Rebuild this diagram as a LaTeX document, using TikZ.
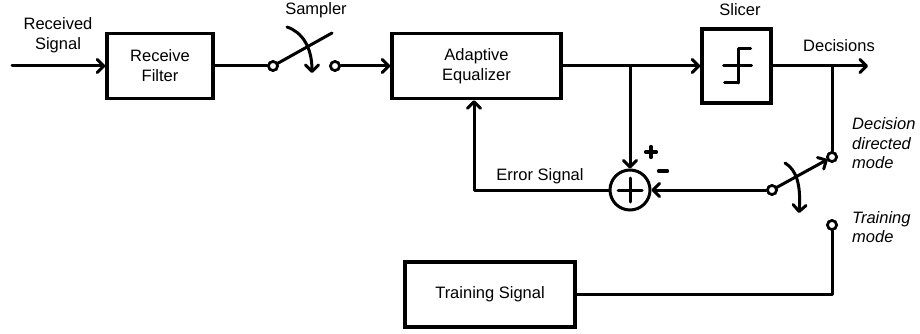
\documentclass[tikz,border=0pt]{standalone}
\usepackage{fontspec}
\setmainfont{Liberation Sans}
\usetikzlibrary{arrows.meta}
\begin{document}
\begin{tikzpicture}[x=1pt,y=-1pt,
  blk/.style={draw,line width=3.6pt,inner sep=0pt,align=center,font=\fontsize{16.5}{20}\selectfont},
  ln/.style={line width=3pt,line cap=round,line join=round},
  sgn/.style={line width=3.2pt,line cap=round},
  arr/.style={ln,-{Straight Barb[length=6.5pt,width=13pt,line cap=round,line join=round]}},
  term/.style={circle,draw,fill=white,line width=2.6pt,inner sep=0pt,minimum size=9pt},
  lbl/.style={inner sep=0pt,align=center,font=\fontsize{16.5}{20}\selectfont},
  ilbl/.style={inner sep=0pt,align=left,anchor=west,font=\fontsize{16.5}{19.5}\selectfont\itshape}]
\useasboundingbox (0,0) rectangle (920,334);

% blocks
\node[blk,minimum width=106pt,minimum height=65pt] (rf) at (160,66) {Receive\\Filter};
\node[blk,minimum width=169pt,minimum height=65pt] (eq) at (476.5,66) {Adaptive\\Equalizer};
\node[blk,minimum width=69pt,minimum height=74pt] (sl) at (736.5,66) {};
\node[blk,minimum width=170pt,minimum height=65pt] (ts) at (490,294.5) {Training Signal};
\node[circle,draw,line width=3pt,minimum size=40pt,inner sep=0pt] (sum) at (630,190) {};

% coordinates
\coordinate (in) at (12,66);
\coordinate (j1) at (630,66);
\coordinate (j2) at (832,66);
\coordinate (out) at (868,66);
\coordinate (fb) at (474,190);
\coordinate (lev1) at (332,33);
\coordinate (c1a) at (287,27);
\coordinate (c1b) at (312,73);
\coordinate (c2a) at (785,163);
\coordinate (c2b) at (799,213);
\coordinate (pls) at (651,152);
\coordinate (mns) at (663,171);

% terminals
\node[term] (s1) at (273,66) {};
\node[term] (s2) at (335,66) {};
\node[term] (p) at (772,190) {};
\node[term] (t1) at (832,157) {};
\node[term] (t2) at (832,225) {};

% connectors
\draw[arr] (in) -- (rf.west);
\draw[ln] (rf.east) -- (s1.west);
\draw[ln,shorten <=4pt] (s1.center) -- (lev1);
\draw[arr] (s2.east) -- (eq.west);
\draw[arr] (eq.east) -- (sl.west);
\draw[arr] (sl.east) -- (out);
\draw[arr] (j1) -- (sum.north);
\draw[ln] (j2) -- (t1.north);
\draw[arr] (p.west) -- (sum.east);
\draw[arr] (sum.west) -| (eq.south -| fb);
\draw[arr,shorten <=4pt,shorten >=5pt] (p.center) -- (t1.center);
\draw[ln] (t2.south) |- (ts.east);

% sampler/mode switch motion arrows
\draw[arr] (c1a) .. controls (302,32) and (312,47) .. (c1b);
\draw[arr] (c2a) .. controls (797,170) and (801,186) .. (c2b);

% redraw terminals on top
\foreach \t in {s1,s2,p,t1,t2} \node[term] at (\t) {};

% summer plus
\draw[ln] ([xshift=-12pt]sum.center) -- ([xshift=12pt]sum.center);
\draw[ln] ([yshift=-12pt]sum.center) -- ([yshift=12pt]sum.center);

% + and - signs at the summer inputs
\draw[sgn] ([xshift=-5.5pt]pls) -- ([xshift=5.5pt]pls);
\draw[sgn] ([yshift=-5.5pt]pls) -- ([yshift=5.5pt]pls);
\draw[sgn] ([xshift=-4.5pt]mns) -- ([xshift=4.5pt]mns);

% slicer symbol
\draw[ln] ([shift={(2,-17)}]sl.center) -- ([shift={(2,17)}]sl.center);
\draw[ln] ([shift={(2,-17)}]sl.center) -- ([shift={(14,-17)}]sl.center);
\draw[ln] ([shift={(-12,17)}]sl.center) -- ([shift={(2,17)}]sl.center);
\draw[ln] ([shift={(-13,0)}]sl.center) -- ([shift={(15,0)}]sl.center);

% labels
\node[lbl] (lrs) at (58,35) {Received\\Signal};
\node[lbl] (lsa) at (316,10) {Sampler};
\node[lbl] (lsl) at (740,10) {Slicer};
\node[lbl] (lde) at (839,46) {Decisions};
\node[lbl] (ler) at (540,176) {Error Signal};
\node[ilbl] (ldd) at (852,143.5) {Decision\\directed\\mode};
\node[ilbl] (ltm) at (852,227) {Training\\mode};
\end{tikzpicture}
\end{document}
